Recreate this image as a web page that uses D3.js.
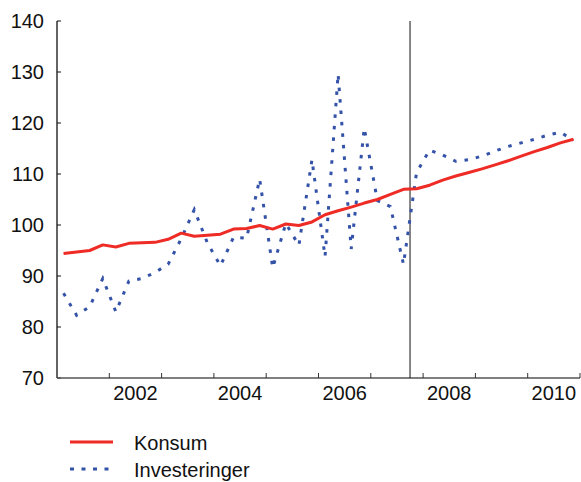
<!DOCTYPE html>
<html>
<head>
<meta charset="utf-8">
<script src="https://cdn.jsdelivr.net/npm/d3@7"></script>
<style>
  body { margin: 0; background: #fff; }
  svg { display: block; }
</style>
</head>
<body>
<div id="vis"></div>
<script>
// quarterly series, 2001K1 - 2010K4
var startYear = 2001;
var konsum = [94.4, 94.7, 95.0, 96.1, 95.7, 96.4, 96.5, 96.6, 97.2, 98.4,
              97.8, 98.0, 98.2, 99.2, 99.3, 99.9, 99.2, 100.2, 99.9, 100.6,
              102.0, 102.8, 103.5, 104.3, 105.0, 106.0, 107.0, 107.1, 107.8, 108.8,
              109.6, 110.3, 111.0, 111.8, 112.6, 113.5, 114.4, 115.2, 116.1, 116.8];
var investeringer = [86.6, 82.3, 84.0, 89.5, 83.0, 89.0, 89.5, 90.7, 92.3, 97.3,
                     103.0, 96.5, 92.0, 97.6, 97.4, 109.0, 91.6, 100.3, 96.0, 112.8,
                     93.8, 129.6, 95.3, 119.0, 104.8, 103.6, 92.3, 110.3, 114.7, 113.7,
                     112.5, 112.8, 113.5, 114.5, 115.4, 116.1, 116.8, 117.6, 118.2, 116.6];
var yTicks = [70, 80, 90, 100, 110, 120, 130, 140];
var yearTicks = [2002, 2003, 2004, 2005, 2006, 2007, 2008, 2009, 2010, 2011];
var yearLabels = [2002, 2004, 2006, 2008, 2010];
var forecastStart = 2007.75;
var legendNames = ["Konsum", "Investeringer"];

var font = "'Liberation Sans', Arial, Helvetica, sans-serif";
var red = "#ee2b25", blue = "#3452a8";

var svg = d3.select("#vis").append("svg")
    .attr("width", 581)
    .attr("height", 482);

var x = d3.scaleLinear().domain([2001, 2011]).range([57, 580]);
var y = d3.scaleLinear().domain([70, 140]).range([378, 21]);

// quarter midpoints
var t = konsum.map(function (d, i) { return startYear + (i + 0.5) / 4; });

// y axis
svg.append("line")
    .attr("x1", x(2001)).attr("x2", x(2001))
    .attr("y1", y(140)).attr("y2", y(70))
    .attr("stroke", "#111").attr("stroke-width", 1.3);

yTicks.forEach(function (v) {
    svg.append("line")
        .attr("x1", x(2001)).attr("x2", x(2001) + 4)
        .attr("y1", y(v)).attr("y2", y(v))
        .attr("stroke", "#111").attr("stroke-width", 1);
    svg.append("text")
        .attr("x", 44).attr("y", y(v) + 7)
        .attr("text-anchor", "end")
        .style("font-family", font).style("font-size", "20px")
        .attr("fill", "#111")
        .text(v);
});

// x axis
svg.append("line")
    .attr("x1", x(2001)).attr("x2", x(2011))
    .attr("y1", y(70)).attr("y2", y(70))
    .attr("stroke", "#555").attr("stroke-width", 1.3);

yearTicks.forEach(function (yr) {
    svg.append("line")
        .attr("x1", x(yr)).attr("x2", x(yr))
        .attr("y1", y(70)).attr("y2", y(70) - 5)
        .attr("stroke", "#333").attr("stroke-width", 1);
});

yearLabels.forEach(function (yr) {
    svg.append("text")
        .attr("x", x(yr + 0.5)).attr("y", 400)
        .attr("text-anchor", "middle")
        .style("font-family", font).style("font-size", "20px")
        .attr("fill", "#111")
        .text(yr);
});

// forecast divider
svg.append("line")
    .attr("x1", x(forecastStart)).attr("x2", x(forecastStart))
    .attr("y1", y(140)).attr("y2", y(70))
    .attr("stroke", "#111").attr("stroke-width", 1);

var line = d3.line()
    .x(function (d, i) { return x(t[i]); })
    .y(function (d) { return y(d); });

svg.append("path")
    .datum(investeringer)
    .attr("d", line)
    .attr("fill", "none")
    .attr("stroke", blue)
    .attr("stroke-width", 3)
    .attr("stroke-dasharray", "3.5,8");

svg.append("path")
    .datum(konsum)
    .attr("d", line)
    .attr("fill", "none")
    .attr("stroke", red)
    .attr("stroke-width", 3)
    .attr("stroke-linejoin", "round");

// legend
var legend = [
    { name: legendNames[0], color: red, dash: null, y: 442 },
    { name: legendNames[1], color: blue, dash: "4,7.5", y: 469 }
];
legend.forEach(function (d) {
    svg.append("line")
        .attr("x1", 70).attr("x2", 113)
        .attr("y1", d.y).attr("y2", d.y)
        .attr("stroke", d.color)
        .attr("stroke-width", 3)
        .attr("stroke-dasharray", d.dash);
    svg.append("text")
        .attr("x", 134).attr("y", d.y + 8)
        .style("font-family", font).style("font-size", "20px")
        .attr("fill", "#111")
        .text(d.name);
});
</script>
</body>
</html>
